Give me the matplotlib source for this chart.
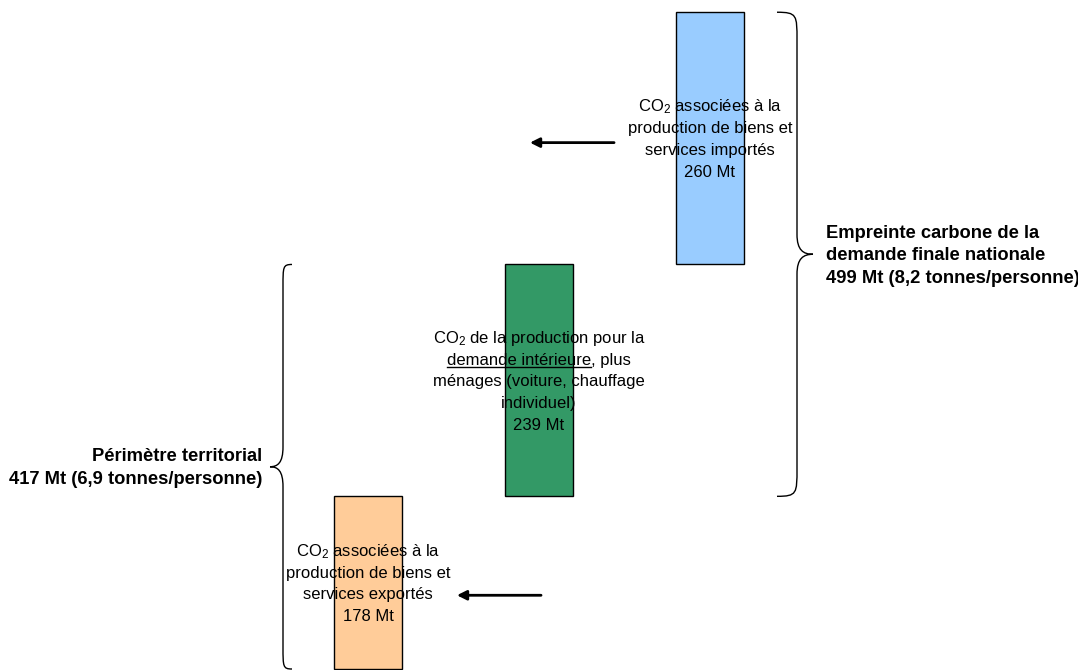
import matplotlib.pyplot as plt
from matplotlib.path import Path
from matplotlib.patches import PathPatch

plt.rcParams['font.family'] = ['Liberation Sans', 'DejaVu Sans']
plt.rcParams['mathtext.fontset'] = 'custom'
plt.rcParams['mathtext.rm'] = 'Liberation Sans'
plt.rcParams['mathtext.it'] = 'Liberation Sans:italic'

# CO2 emissions, Mt
values = [178, 239, 260]
colors = ['#FFCC99', '#339966', '#99CCFF']
bar_texts = [
    ["CO$_\\mathrm{2}$ associées à la", "production de biens et", "services exportés"],
    ["CO$_\\mathrm{2}$ de la production pour la", "demande intérieure, plus",
     "ménages (voiture, chauffage", "individuel)"],
    ["CO$_\\mathrm{2}$ associées à la", "production de biens et", "services importés"],
]
territorial_per_cap = "6,9"
footprint_per_cap = "8,2"

bottoms = [0, values[0], values[0] + values[1]]
territorial = values[0] + values[1]
footprint = values[1] + values[2]

fig = plt.figure(figsize=(10.78, 6.7), dpi=100)
ax = fig.add_axes([0, 0, 1, 1])
px_x = 1 / 171.0     # x units per pixel
px_y = 1 / 0.973     # Mt per pixel
ax.set_xlim(-368 * px_x, (1078 - 368) * px_x)
ax.set_ylim(-1 * px_y, 671 * px_y)
ax.axis('off')

xs = [0, 1, 2]
ax.bar(xs, values, bottom=bottoms, width=0.4, color=colors,
       edgecolor='black', linewidth=1, zorder=1)

LS = 15.6  # line spacing, points


def block(x, yc, lines, ha='center', weight='normal', ls=LS, size=12):
    n = len(lines)
    out = []
    for i, line in enumerate(lines):
        off = ((n - 1) / 2 - i) * ls - 4.2
        t = ax.annotate(line, xy=(x, yc), xytext=(0, off), textcoords='offset points',
                        ha=ha, va='baseline', fontsize=size, fontweight=weight, zorder=3)
        out.append(t)
    return out


green_lines = None
for x, b, v, lines in zip(xs, bottoms, values, bar_texts):
    ts = block(x, b + v / 2, lines + [f"{v} Mt"])
    if x == 1:
        green_lines = ts

# underline "demande intérieure"
fig.canvas.draw()
r = fig.canvas.get_renderer()
t2 = green_lines[1]
bb = t2.get_window_extent(r)
tmp = ax.text(0, 0, "demande intérieure", fontsize=12)
w = tmp.get_window_extent(r).width
tmp.remove()
base_y = ax.transData.transform((1, bottoms[1] + values[1] / 2))[1] + t2.xyann[1] * 100 / 72
yline = base_y - 2.5
inv = fig.transFigure.inverted()
p0 = inv.transform((bb.x0, yline))
p1 = inv.transform((bb.x0 + w, yline))
fig.add_artist(plt.Line2D([p0[0], p1[0]], [p0[1], p1[1]], color='black', lw=1, zorder=4))

# arrows
ax.annotate('', xy=(0.947, 542.6), xytext=(1.439, 542.6),
            arrowprops=dict(arrowstyle='-|>', color='black', lw=2,
                            mutation_scale=14, shrinkA=0, shrinkB=0))
ax.annotate('', xy=(0.520, 76), xytext=(1.012, 76),
            arrowprops=dict(arrowstyle='-|>', color='black', lw=2,
                            mutation_scale=14, shrinkA=0, shrinkB=0))


def brace(xv, y0, y1, direction, dend, dtip, hend, htip):
    # direction +1: tip to the right, -1: tip to the left; sizes in pixels
    d = dend * px_x * -direction
    d2 = dtip * px_x * direction
    h = hend * px_y
    ht = htip * px_y
    ym = (y0 + y1) / 2
    verts = [
        (xv + d, y1), (xv, y1), (xv, y1 - h * 0.1), (xv, y1 - h),
        (xv, ym + ht),
        (xv, ym + ht * 0.2), (xv + d2 * 0.4, ym), (xv + d2, ym),
        (xv + d2 * 0.4, ym), (xv, ym - ht * 0.2), (xv, ym - ht),
        (xv, y0 + h),
        (xv, y0 + h * 0.1), (xv, y0), (xv + d, y0),
    ]
    codes = [Path.MOVETO, Path.CURVE4, Path.CURVE4, Path.CURVE4,
             Path.LINETO,
             Path.CURVE4, Path.CURVE4, Path.CURVE4,
             Path.CURVE4, Path.CURVE4, Path.CURVE4,
             Path.LINETO,
             Path.CURVE4, Path.CURVE4, Path.CURVE4]
    ax.add_patch(PathPatch(Path(verts, codes), fill=False, lw=1, color='black'))


brace((283 - 368) * px_x, 0, territorial, -1, 9, 13, 22, 20)
brace((797 - 368) * px_x, bottoms[1], bottoms[2] + values[2], +1, 20, 16, 28, 20)

block((262 - 368) * px_x, territorial / 2,
      ["Périmètre territorial", f"{territorial} Mt ({territorial_per_cap} tonnes/personne)"],
      ha='right', weight='bold', ls=16.6, size=13.2)
block((826 - 368) * px_x, bottoms[1] + footprint / 2,
      ["Empreinte carbone de la", "demande finale nationale",
       f"{footprint} Mt ({footprint_per_cap} tonnes/personne)"],
      ha='left', weight='bold', ls=16.2, size=13.2)

fig.savefig("out.png", dpi=100)
